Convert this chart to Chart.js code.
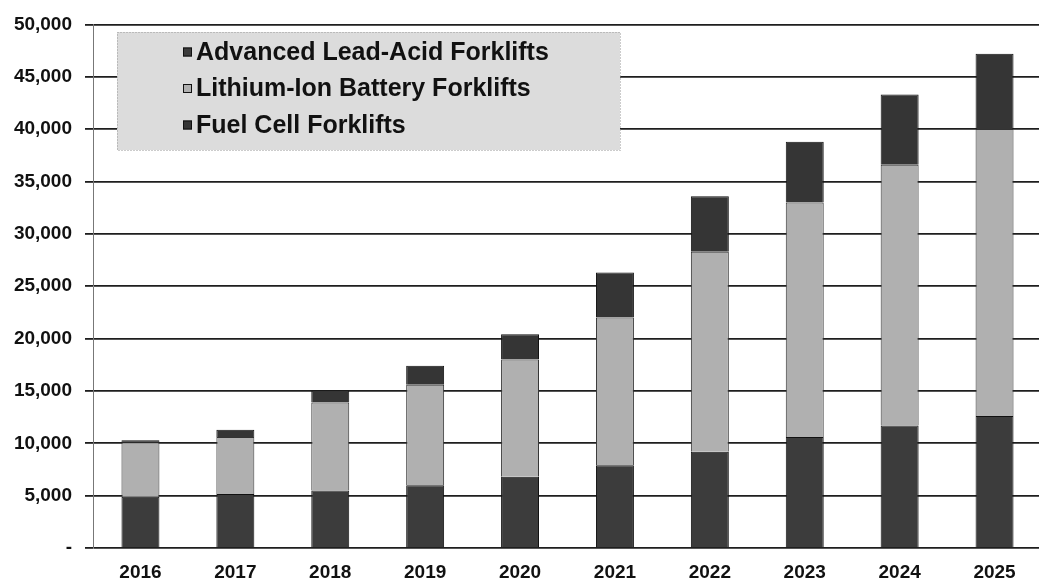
<!DOCTYPE html>
<html>
<head>
<meta charset="utf-8">
<script src="https://cdn.jsdelivr.net/npm/chart.js@4.4.0/dist/chart.umd.min.js"></script>
<style>
  html, body { margin: 0; padding: 0; background: #fff; overflow: hidden; }
  #wrap { width: 1044px; height: 586px; }
</style>
</head>
<body>
<div id="wrap"><canvas id="chart" width="1044" height="586"></canvas></div>
<script>
// Forklift units by year, stacked bottom to top
const years = ['2016', '2017', '2018', '2019', '2020', '2021', '2022', '2023', '2024', '2025'];
const leadAcid = [4900, 5150, 5500, 6000, 6800, 7900, 9200, 10600, 11700, 12600];
const lithiumIon = [5200, 5450, 8400, 9600, 11200, 14100, 19100, 22400, 24900, 27400];
const fuelCell = [200, 700, 1150, 1800, 2400, 4300, 5300, 5800, 6700, 7200];

const yMax = 50000;
const yStep = 5000;

const FONT = '"Liberation Sans", Arial, Helvetica, sans-serif';
const INK = '#111';

// Legend drawn as a shaded box inside the plot, over the grid lines
const boxLegend = {
    id: 'boxLegend',
    beforeDatasetsDraw(chart, args, opts) {
        const ctx = chart.ctx;
        ctx.save();
        ctx.fillStyle = opts.fill;
        ctx.fillRect(opts.x, opts.y, opts.width, opts.height);
        ctx.setLineDash([1, 2]);
        ctx.strokeStyle = '#999';
        ctx.lineWidth = 1;
        ctx.strokeRect(opts.x + 0.5, opts.y + 0.5, opts.width, opts.height);
        ctx.setLineDash([]);

        ctx.font = 'bold 25px ' + FONT;
        ctx.textBaseline = 'middle';
        ctx.textAlign = 'left';
        chart.data.datasets.forEach((ds, i) => {
            const cy = opts.y + opts.firstRow + i * opts.rowGap;
            ctx.fillStyle = ds.backgroundColor;
            ctx.fillRect(opts.markerX, cy - 4.5, 9, 9);
            ctx.strokeStyle = '#111';
            ctx.strokeRect(opts.markerX + 0.5, cy - 4, 8, 8);
            ctx.fillStyle = INK;
            ctx.fillText(ds.label, opts.textX, cy + 1);
        });
        ctx.restore();
    }
};

const ctx = document.getElementById('chart').getContext('2d');

new Chart(ctx, {
    type: 'bar',
    data: {
        labels: years,
        datasets: [
            {
                label: 'Advanced Lead-Acid Forklifts',
                data: leadAcid,
                backgroundColor: '#3c3c3c',
                borderColor: '#111',
                borderWidth: 1
            },
            {
                label: 'Lithium-Ion Battery Forklifts',
                data: lithiumIon,
                backgroundColor: '#b0b0b0',
                borderColor: '#333',
                borderWidth: 1
            },
            {
                label: 'Fuel Cell Forklifts',
                data: fuelCell,
                backgroundColor: '#353535',
                borderColor: '#111',
                borderWidth: 1
            }
        ]
    },
    options: {
        responsive: false,
        animation: false,
        devicePixelRatio: 1,
        barPercentage: 0.4,
        categoryPercentage: 1,
        layout: {
            padding: { top: 15, right: 2, left: 0, bottom: 0 }
        },
        plugins: {
            legend: { display: false },
            tooltip: { enabled: false },
            boxLegend: {
                x: 117,
                y: 32,
                width: 503,
                height: 118,
                firstRow: 20,
                rowGap: 36.5,
                markerX: 183,
                textX: 196,
                fill: '#dcdcdc'
            }
        },
        scales: {
            x: {
                stacked: true,
                grid: { display: false, drawTicks: false },
                border: { display: false },
                ticks: {
                    color: INK,
                    padding: 13,
                    font: { family: FONT, size: 19, weight: 'bold' }
                },
                afterFit(scale) { scale.height = 38; }
            },
            y: {
                stacked: true,
                min: 0,
                max: yMax,
                grid: {
                    color: '#1e1e1e',
                    lineWidth: 1.8,
                    tickLength: 8
                },
                border: { display: true, color: '#777', width: 1 },
                ticks: {
                    stepSize: yStep,
                    color: INK,
                    padding: 13,
                    font: { family: FONT, size: 19, weight: 'bold' },
                    callback: (v) => v === 0 ? '-' : v.toLocaleString('en-US')
                },
                afterFit(scale) { scale.width = 93; }
            }
        }
    },
    plugins: [boxLegend]
});
</script>
</body>
</html>
